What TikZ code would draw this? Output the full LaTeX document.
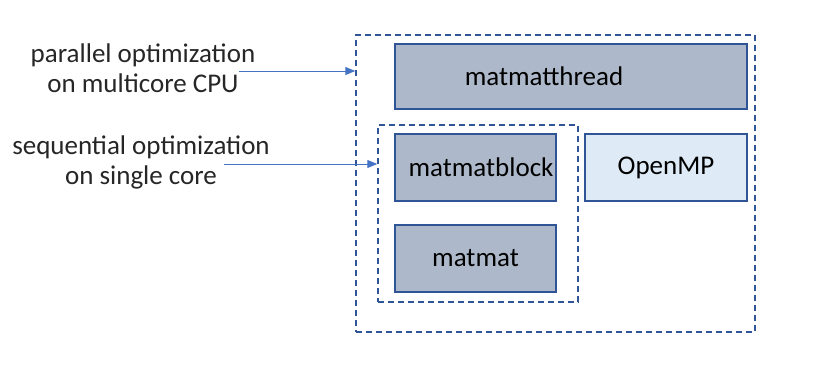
\documentclass[tikz,border=0pt]{standalone}
\usepackage{fontspec}
\setmainfont{Carlito}
\usetikzlibrary{arrows.meta, positioning}

\definecolor{boxline}{HTML}{2F5597}
\definecolor{boxfill}{HTML}{ADB9CA}
\definecolor{ompfill}{HTML}{DEEBF7}
\definecolor{arrowblue}{HTML}{4472C4}

\tikzset{
    modbox/.style={draw=boxline, line width=2pt, fill=boxfill,
        minimum width=161pt, minimum height=67pt, inner sep=0pt},
    libbox/.style={modbox, fill=ompfill},
    groupbox/.style={draw=boxline, line width=1.5pt, dash pattern=on 6pt off 4pt,
        inner sep=0pt},
    notetext/.style={align=center, text=black!85},
    notearrow/.style={draw=arrowblue, line width=1pt,
        -{Triangle[length=10pt, width=8pt]}}
}

\begin{document}
\begin{tikzpicture}[x=1pt, y=-1pt, font=\fontsize{27}{30}\selectfont]

    \useasboundingbox (0,0) rectangle (831,380);

    % ============================================================
    % GROUPS (MULTICORE / SINGLE CORE)
    % ============================================================
    \node[groupbox, minimum width=399pt, minimum height=297pt]
        (multicore) at (555.5,183.5) {};
    \node[groupbox, minimum width=200pt, minimum height=177pt]
        (singlecore) at (478,213.5) {};

    % ============================================================
    % MODULES
    % ============================================================
    \node[modbox, minimum width=352pt, minimum height=65pt]
        (thread) at (571,76.5) {matmatthread\rule{54pt}{0pt}};
    \node[modbox] (block) at (475.5,167.5) {\hspace{11pt}matmatblock};
    \node[libbox, minimum width=162pt] (openmp) at (666,167.5) {OpenMP};
    \node[modbox] (matmat) at (475.5,258.5) {matmat};

    % ============================================================
    % NOTES
    % ============================================================
    \node[notetext] (parnote) at (143,68)
        {parallel optimization\\on multicore CPU};
    \node[notetext] (seqnote) at (141,162)
        {sequential optimization\\on single core};

    \coordinate (parstart) at (239,71);
    \coordinate (seqstart) at (224,164);
    \draw[notearrow] (parstart) -- (multicore.west |- parstart);
    \draw[notearrow] (seqstart) -- (singlecore.west |- seqstart);

\end{tikzpicture}
\end{document}
